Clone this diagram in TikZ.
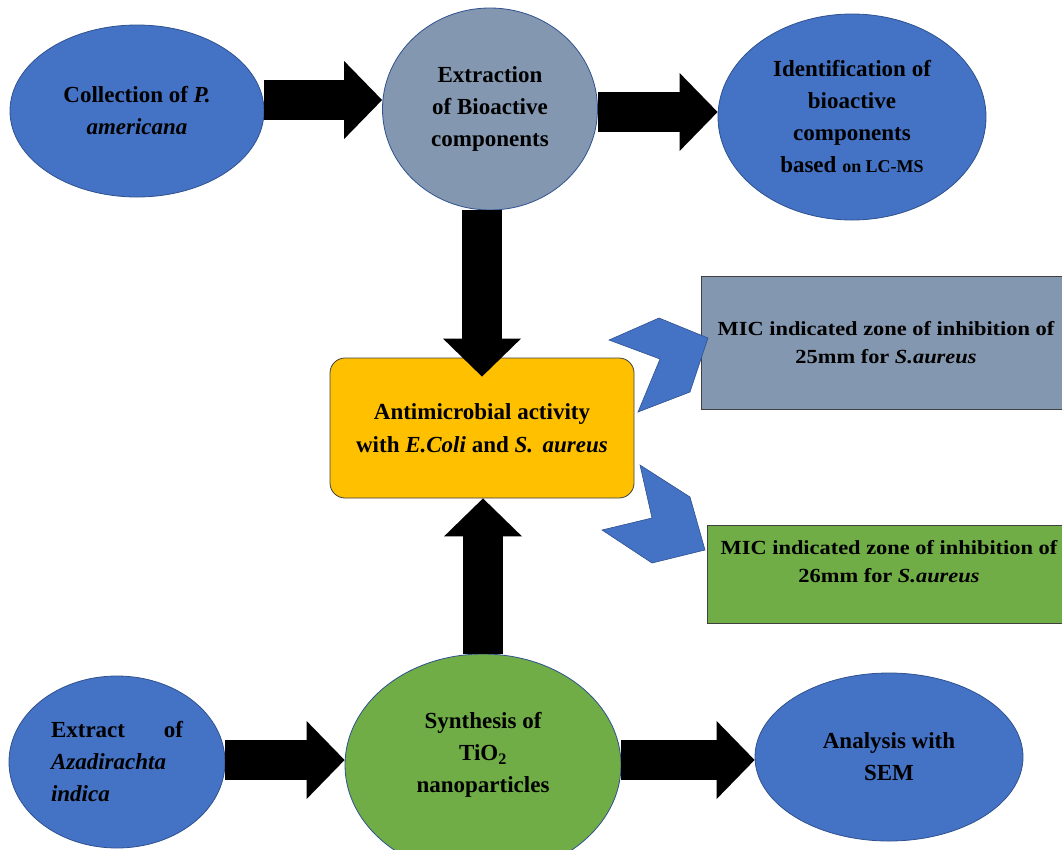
\documentclass[tikz,border=0pt]{standalone}
\usepackage{fontspec}
\setmainfont{Liberation Serif}
\newfontfamily\wideserif[FakeStretch=1.12]{Liberation Serif}
\usepackage{tikz}
\usetikzlibrary{positioning,calc,shapes.geometric,arrows.meta}
\definecolor{OffBlue}{HTML}{4472C4}
\definecolor{OffBlueDark}{HTML}{2F528F}
\definecolor{OffGrey}{HTML}{8497B0}
\definecolor{OffGreen}{HTML}{70AD47}
\definecolor{OffOrange}{HTML}{FFC000}
\tikzset{
    stepnode/.style={ellipse, draw=OffBlueDark, line width=0.8pt, inner sep=0pt, align=center, text=black, font=\bfseries\fontsize{23}{32}\selectfont},
    bigarrow/.style={draw=black, line width=40pt, -{Triangle[width=78pt,length=38pt,line width=0pt]}}
}

\begin{document}
\begin{tikzpicture}[
        x=1pt, y=-1pt,
        % --- STYLE ---
        % Ellipse xanh / xam / la
        bluestep/.style={stepnode, fill=OffBlue},
        greystep/.style={stepnode, fill=OffGrey},
        greenstep/.style={stepnode, fill=OffGreen},
        % Hop ket qua chinh
        actbox/.style={
            rectangle, rounded corners=15pt,
            draw=black!75, line width=0.8pt,
            fill=OffOrange,
            minimum width=304pt, minimum height=140pt,
            inner sep=0pt, align=center,
            font=\bfseries\fontsize{23}{33}\selectfont
        },
        % Hop MIC
        micbox/.style={
            rectangle, draw=black!75, line width=0.9pt,
            inner sep=0pt, align=center,
            font=\wideserif\bfseries\fontsize{20}{28}\selectfont
        },
        % Mui ten chevron xanh
        chevron/.style={fill=OffBlue, draw=OffBlueDark, line width=0.6pt, line join=miter}
    ]
        \useasboundingbox (0,0) rectangle (1062,849);

        % --- HANG TREN ---
        \node[bluestep, minimum width=254pt, minimum height=172pt] (coll) at (137,111)
            {Collection of \textit{P.}\\\textit{americana}};
        \node[greystep, minimum width=215pt, minimum height=202pt] (extr) at (490,109)
            {Extraction\\of Bioactive\\components};
        \node[bluestep, minimum width=268pt, minimum height=206pt] (ident) at (852,117)
            {Identification of\\bioactive\\components\\based {\fontsize{18}{32}\selectfont on LC-MS}};

        % --- HOP GIUA ---
        \node[actbox] (act) at (482,428)
            {Antimicrobial activity\\with \textit{E.Coli} and \textit{S.}\, \textit{aureus}};

        \node[micbox, fill=OffGrey, minimum width=370pt, minimum height=133pt] (mic1) at (886,343)
            {MIC indicated zone of inhibition of\\25mm for \textit{S.aureus}};
        \node[micbox, fill=OffGreen, minimum width=364pt, minimum height=98pt, text depth=25pt] (mic2) at (889,574)
            {MIC indicated zone of inhibition of\\26mm for \textit{S.aureus}};

        % --- HANG DUOI ---
        \node[bluestep, minimum width=216pt, minimum height=172pt, text width=132pt, align=left] (neem) at (117,762)
            {Extract\hfill of\\\textit{Azadirachta}\\\textit{indica}};
        \node[greenstep, minimum width=276pt, minimum height=222pt, text depth=25pt] (synth) at (483,765)
            {Synthesis of\\TiO\textsubscript{2}\\nanoparticles};
        \node[bluestep, minimum width=268pt, minimum height=168pt] (sem) at (889,757)
            {Analysis with\\SEM};

        % --- MUI TEN DEN ---
        \draw[bigarrow] ([yshift=11pt]coll.east) -- ([yshift=9pt]extr.west);
        \draw[bigarrow] ([yshift=-3pt]extr.east) -- ([yshift=5pt]ident.west);
        \draw[bigarrow] (extr.south -| act.north) -- ([yshift=-19pt]act.north);
        \draw[bigarrow] (synth.north) -- (synth.north |- act.south);
        \draw[bigarrow] ([yshift=2pt]neem.east) -- ([yshift=5pt]synth.west);
        \draw[bigarrow] ([yshift=5pt]synth.east) -- ([yshift=-3pt]sem.west);

        % --- CHEVRON ---
        \filldraw[chevron] (659,318) -- (708,338) -- (690,392) -- (638,412) -- (660,359) -- (609,340) -- cycle;
        \filldraw[chevron] (640,465) -- (690,497) -- (705,550) -- (652,563) -- (602,530) -- (652,518) -- cycle;

    \end{tikzpicture}
\end{document}
